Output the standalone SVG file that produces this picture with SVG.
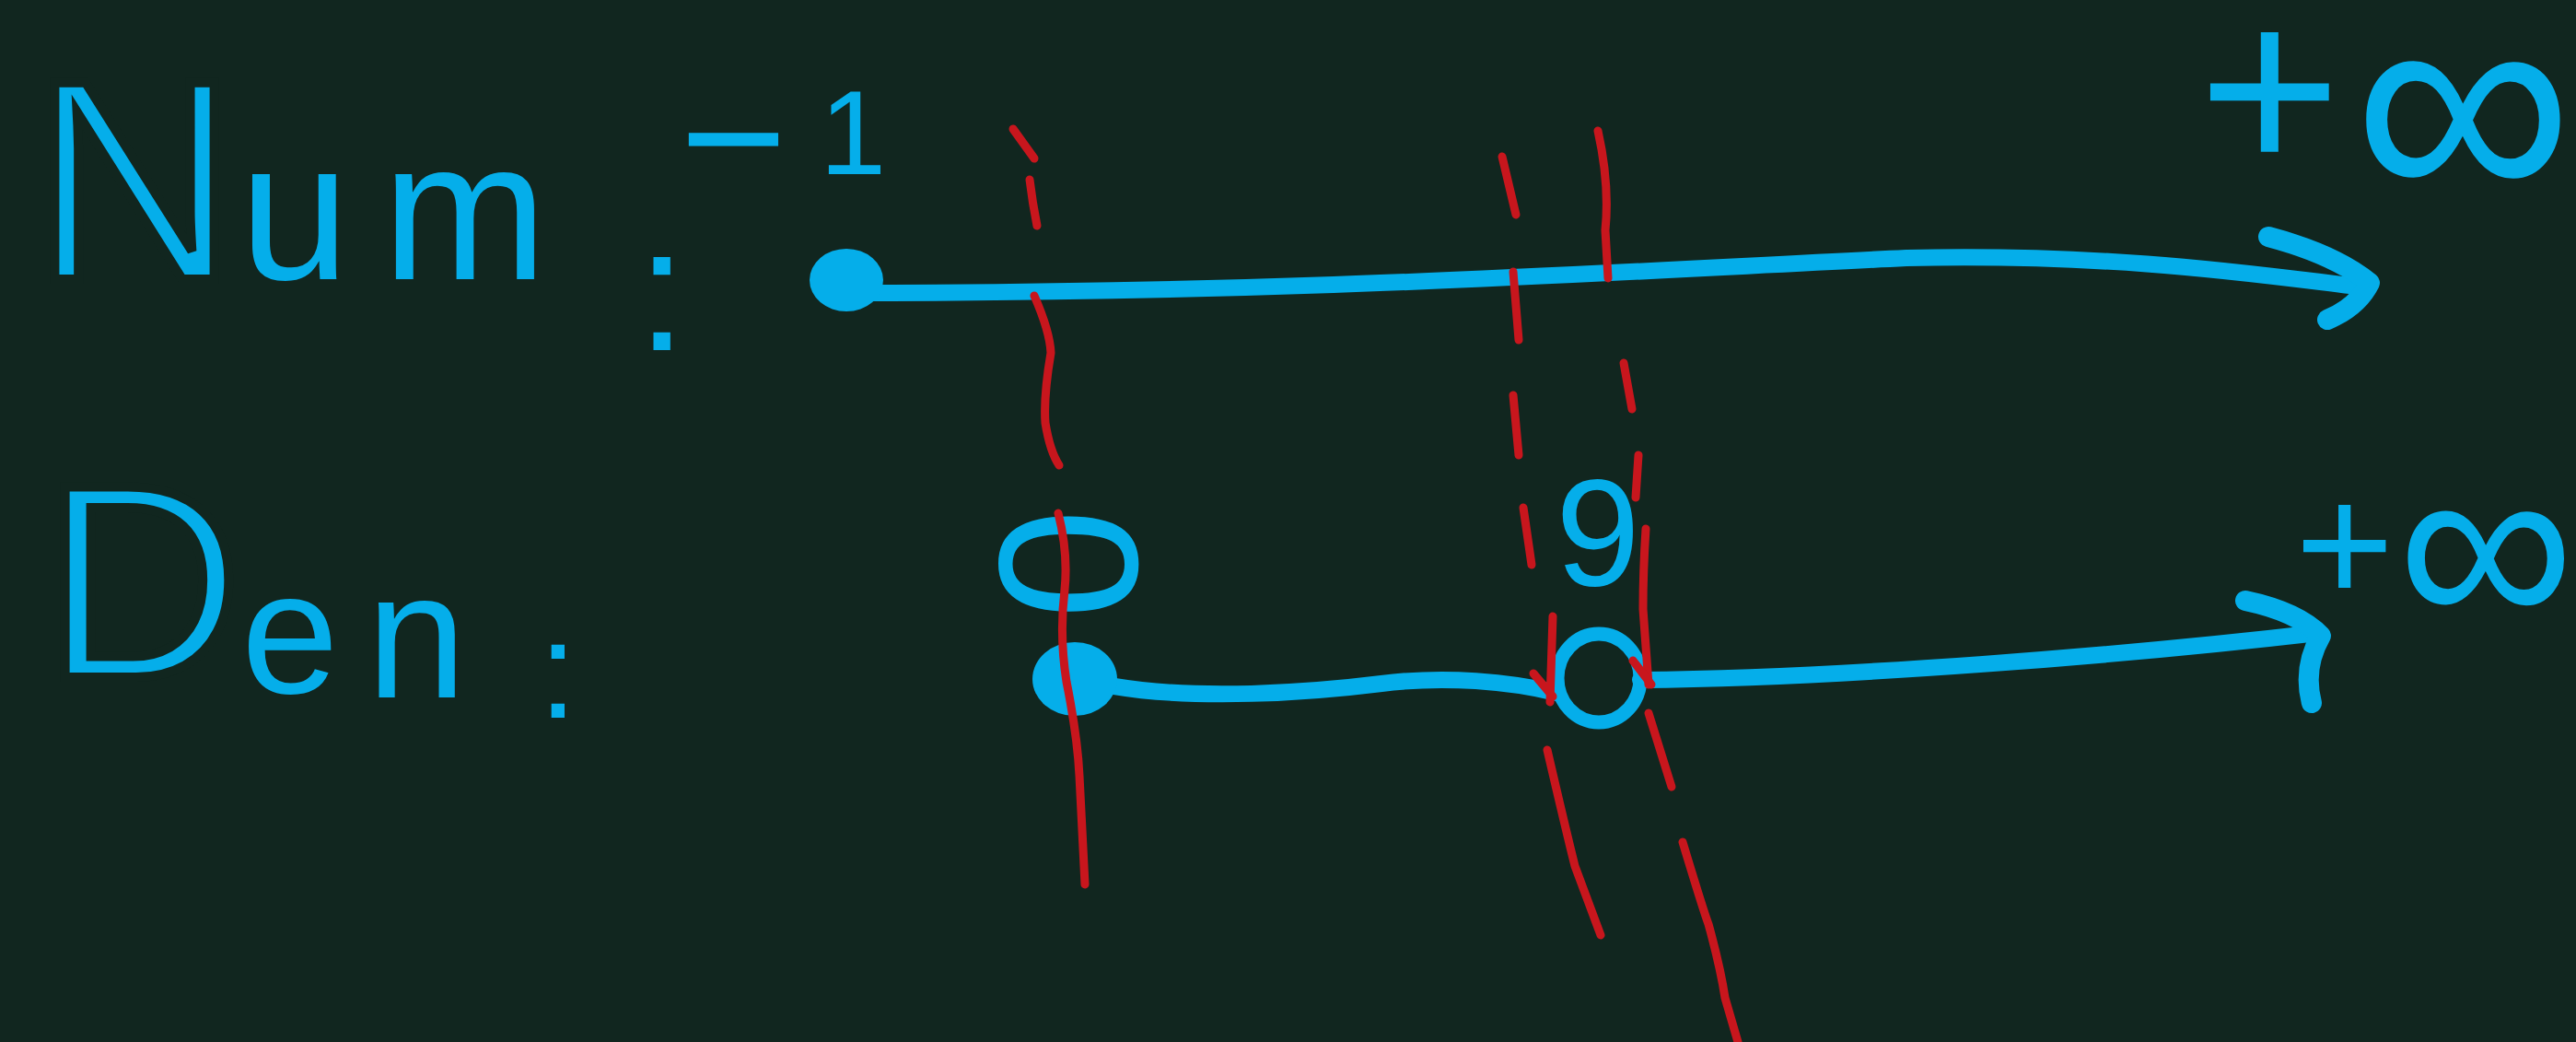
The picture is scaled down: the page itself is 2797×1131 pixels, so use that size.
<svg xmlns="http://www.w3.org/2000/svg" width="2797" height="1131" viewBox="0 0 2797 1131">
  <style>
    .hand { fill: #05aeea; font-family: "Liberation Sans", Arial, sans-serif; }
    .thin { stroke: #11261f; paint-order: normal; }
    .blue { fill: none; stroke: #05aeea; stroke-width: 18; stroke-linecap: round; stroke-linejoin: round; }
    .head { fill: none; stroke: #05aeea; stroke-width: 22; stroke-linecap: round; stroke-linejoin: round; }
    .red { fill: none; stroke: #c8161d; stroke-width: 9; stroke-linecap: round; stroke-linejoin: round; }
  </style>
  <rect x="0" y="0" width="2797" height="1131" fill="#11261f"/>

  <g id="labels">
    <text id="num-label" class="hand" y="303"><tspan x="34" font-size="310" class="thin" stroke-width="10">N</tspan><tspan x="260" font-size="215">u</tspan><tspan x="415" font-size="215">m</tspan><tspan x="692" y="380" font-size="192">:</tspan></text>
    <text id="num-start" class="hand"><tspan x="738" y="218" font-size="200">−</tspan><tspan x="890" y="189" font-size="130">1</tspan></text>
    <text id="num-end" class="hand"><tspan x="2387" y="188" font-size="265">+</tspan><tspan x="2555" y="227" font-size="335">∞</tspan></text>

    <text id="den-label" class="hand" y="735"><tspan x="46" font-size="300" class="thin" stroke-width="10">D</tspan><tspan x="262" y="752" font-size="190">e</tspan><tspan x="398" y="757" font-size="195">n</tspan><tspan x="585" y="779" font-size="150">:</tspan></text>
    <text id="den-zero" class="hand" font-size="216" text-anchor="middle" dominant-baseline="central" transform="translate(1161,612) rotate(90)">0</text>
    <text id="den-nine" class="hand" x="1735" y="635" font-size="165" text-anchor="middle">9</text>
    <text id="den-end" class="hand"><tspan x="2492" y="654" font-size="184">+</tspan><tspan x="2603" y="684" font-size="270">∞</tspan></text>
  </g>

  <g id="number-lines">
    <g id="num-line">
      <path class="blue" d="M 918 318 C 1400 318, 1700 298, 2070 280 C 2300 275, 2450 298, 2560 311"/>
      <path class="head" d="M 2463 257 Q 2535 276 2573 307 Q 2560 333 2527 347"/>
      <ellipse cx="919" cy="304" rx="40" ry="34" fill="#05aeea"/>
    </g>
    <g id="den-line">
      <path class="blue" d="M 1210 745 C 1300 760, 1420 752, 1500 742 C 1570 733, 1640 740, 1690 752"/>
      <path class="blue" d="M 1781 738 C 2000 736, 2300 712, 2517 687"/>
      <path class="head" d="M 2438 652 Q 2495 664 2520 690 Q 2500 725 2510 763"/>
      <ellipse cx="1167" cy="737" rx="46" ry="40" fill="#05aeea"/>
      <ellipse cx="1736" cy="736" rx="45" ry="48" fill="none" stroke="#05aeea" stroke-width="15"/>
    </g>
  </g>

  <g id="guides">
    <g id="guide-1">
      <path class="red" d="M 1100 140 L 1123 172"/>
      <path class="red" d="M 1118 195 Q 1121 220 1126 245"/>
      <path class="red" d="M 1123 321 Q 1140 360 1141 383 Q 1133 430 1135 459 Q 1140 490 1150 505"/>
      <path class="red" d="M 1149 557 Q 1160 600 1156 640 Q 1150 690 1158 740 Q 1170 800 1172 842 L 1178 960"/>
    </g>
    <g id="guide-2">
      <path class="red" d="M 1631 170 L 1646 233"/>
      <path class="red" d="M 1643 295 L 1649 369"/>
      <path class="red" d="M 1643 429 L 1649 494"/>
      <path class="red" d="M 1654 551 L 1663 613"/>
      <path class="red" d="M 1686 669 L 1683 762"/>
      <path class="red" d="M 1665 731 L 1686 756"/>
      <path class="red" d="M 1680 814 Q 1700 900 1710 940 L 1738 1015"/>
    </g>
    <g id="guide-3">
      <path class="red" d="M 1735 142 Q 1748 200 1743 250 L 1746 302"/>
      <path class="red" d="M 1763 394 L 1772 444"/>
      <path class="red" d="M 1779 494 L 1776 540"/>
      <path class="red" d="M 1787 574 Q 1784 620 1784 661 L 1790 743"/>
      <path class="red" d="M 1773 717 L 1793 743"/>
      <path class="red" d="M 1790 774 L 1815 854"/>
      <path class="red" d="M 1827 914 Q 1850 990 1855 1003 Q 1868 1050 1873 1083 L 1887 1131"/>
    </g>
  </g>
</svg>
